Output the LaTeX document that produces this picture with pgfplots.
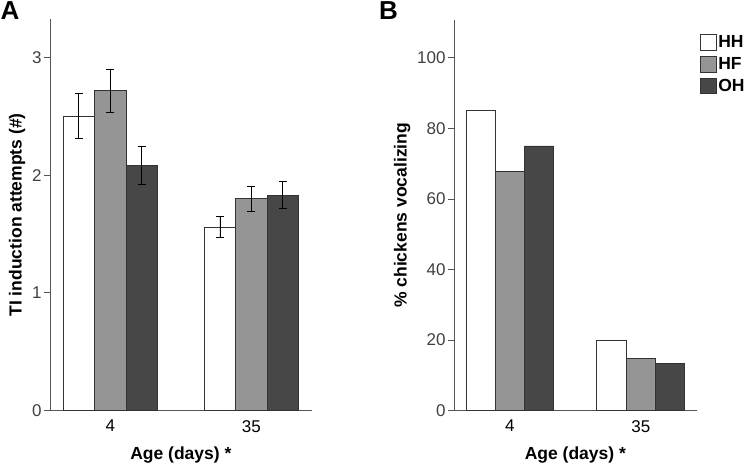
\documentclass[border=0pt]{standalone}
\usepackage{fontspec}
\setmainfont{Liberation Sans}
\usepackage{pgfplots}
\pgfplotsset{compat=1.18}
\definecolor{hhfill}{HTML}{FFFFFF}
\definecolor{hffill}{HTML}{959595}
\definecolor{ohfill}{HTML}{474747}
\definecolor{edge}{HTML}{333333}
\definecolor{axisgray}{HTML}{555555}

\pgfplotsset{
  panel/.style={
    scale only axis,
    axis x line*=bottom, axis y line*=left,
    axis line style={axisgray, line width=0.9pt},
    xmin=-0.427, xmax=1.427,
    xtick={0,1}, xticklabels={4,35},
    x tick label style={font=\fontsize{17}{17}\selectfont, text=black},
    y tick label style={font=\fontsize{17}{17}\selectfont, text=black!75, xshift=1pt},
    major x tick style={draw=none},
    major y tick style={axisgray, line width=0.8pt},
    tick align=outside, major tick length=6pt,
    /pgf/number format/assume math mode=true,
    xlabel={Age (days) *},
    xlabel style={font=\bfseries\fontsize{17.5}{18}\selectfont, yshift=-8pt},
    ylabel style={font=\bfseries\fontsize{17.5}{18}\selectfont},
    ybar, bar width=0.223, bar shift=0pt,
    clip=false,
  },
  hh/.style={draw=edge, line width=0.8pt, fill=hhfill},
  hf/.style={draw=edge, line width=0.8pt, fill=hffill},
  oh/.style={draw=edge, line width=0.8pt, fill=ohfill},
  errs/.style={error bars/.cd, y dir=both, y explicit,
    error bar style={black, line width=0.9pt},
    error mark options={rotate=90, mark size=4pt, line width=0.9pt, black}},
}

\begin{document}
\begin{tikzpicture}
\path (0pt,0pt) rectangle (747pt,466pt);

% panel A
\begin{axis}[panel,
  at={(50pt,55.3pt)}, anchor=south west,
  width=261.7pt, height=391.7pt,
  ymin=0, ymax=3.325, ytick={0,1,2,3},
  ylabel={TI induction attempts (\#)},
]
\addplot[hh, errs] coordinates {(-0.223,2.50) +- (0,0.19) (0.777,1.56) +- (0,0.09)};
\addplot[hf, errs] coordinates {(0,2.715) +- (0,0.18) (1,1.80) +- (0,0.107)};
\addplot[oh, errs] coordinates {(0.223,2.08) +- (0,0.16) (1.223,1.83) +- (0,0.115)};
\end{axis}
\node[font=\bfseries\fontsize{26}{26}\selectfont, anchor=north west, inner sep=0pt] at (0.5pt,465pt) {A};

% panel B
\begin{axis}[panel,
  at={(454pt,55.3pt)}, anchor=south west,
  width=242.7pt, height=390.7pt,
  ymin=0, ymax=110.7, ytick={0,20,40,60,80,100},
  ylabel={\% chickens vocalizing},
  legend style={at={(1.013,0.965)}, anchor=north west, draw=none, fill=none,
    font=\bfseries\fontsize{17.5}{17.5}\selectfont, row sep=4pt, inner sep=0pt,
    cells={anchor=west}},
  legend image code/.code={\draw[#1] (0pt,-7.8pt) rectangle (15.5pt,7.8pt);},
  legend cell align=left,
]
\addplot[hh] coordinates {(-0.224,85.2) (0.776,19.9)};
\addlegendentry{HH}
\addplot[hf] coordinates {(0,67.9) (1,14.8)};
\addlegendentry{HF}
\addplot[oh] coordinates {(0.224,75.0) (1.224,13.3)};
\addlegendentry{OH}
\end{axis}
\node[font=\bfseries\fontsize{26}{26}\selectfont, anchor=north west, inner sep=0pt] at (379pt,465pt) {B};
\end{tikzpicture}
\end{document}
